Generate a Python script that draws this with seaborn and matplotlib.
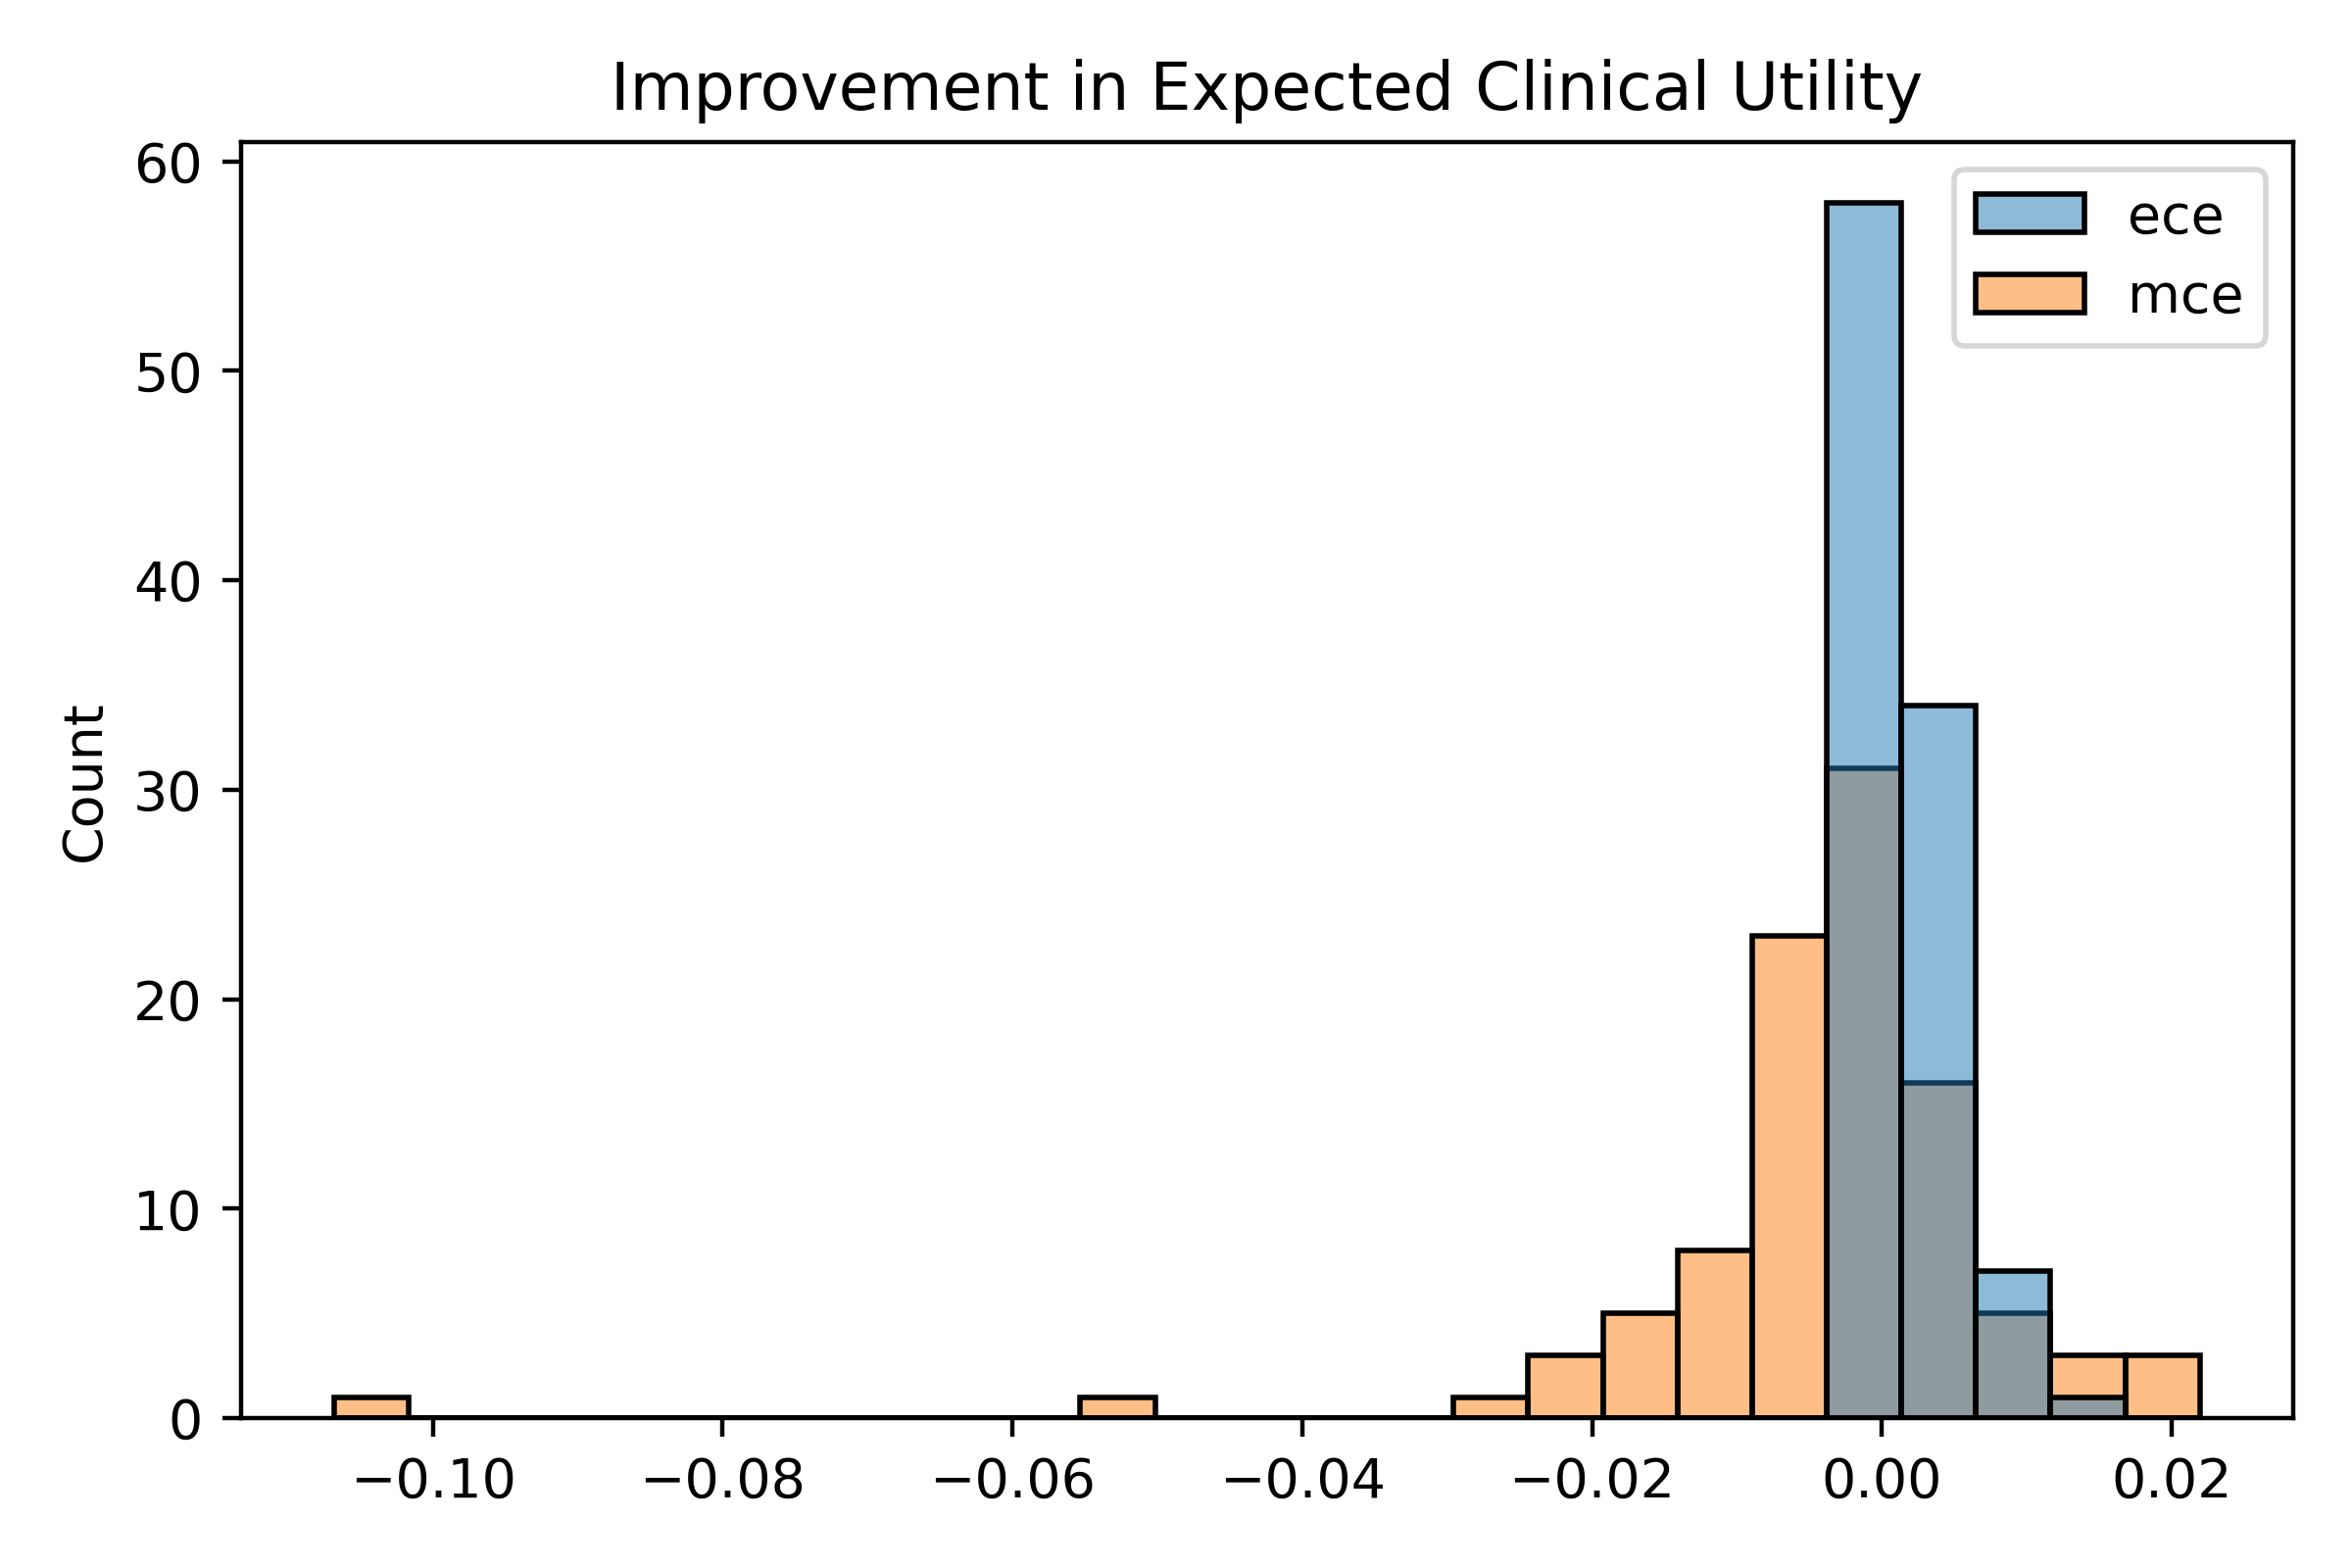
import numpy as np
import pandas as pd
import matplotlib
matplotlib.use("Agg")
import matplotlib.pyplot as plt
import seaborn as sns

# histogram: 25 shared bins between data min and max
data_min = -0.10682
data_max = 0.02195
n_bins = 25

# counts per bin (index 0 = leftmost bin)
ece_counts = [0] * 20 + [58, 34, 7, 1, 0]
mce_counts = [1, 0, 0, 0, 0, 0, 0, 0, 0, 0,
              1, 0, 0, 0, 0, 1, 3, 5, 8, 23,
              31, 16, 5, 3, 3]

series_names = ["ece", "mce"]

edges = np.linspace(data_min, data_max, n_bins + 1)
centers = (edges[:-1] + edges[1:]) / 2

frames = []
for name, counts in zip(series_names, [ece_counts, mce_counts]):
    frames.append(pd.DataFrame({"value": centers, "weight": counts, "metric": name}))
df = pd.concat(frames, ignore_index=True)

fig, ax = plt.subplots(figsize=(6, 4), dpi=400)

sns.histplot(data=df, x="value", weights="weight", hue="metric",
             bins=n_bins, binrange=(data_min, data_max),
             edgecolor="black", ax=ax)

sns.move_legend(ax, "upper right", title=None)
ax.set_xlabel("")
ax.set_ylabel("Count")
ax.set_title("Improvement in Expected Clinical Utility")

plt.tight_layout()
plt.savefig("out.png", dpi=400)
